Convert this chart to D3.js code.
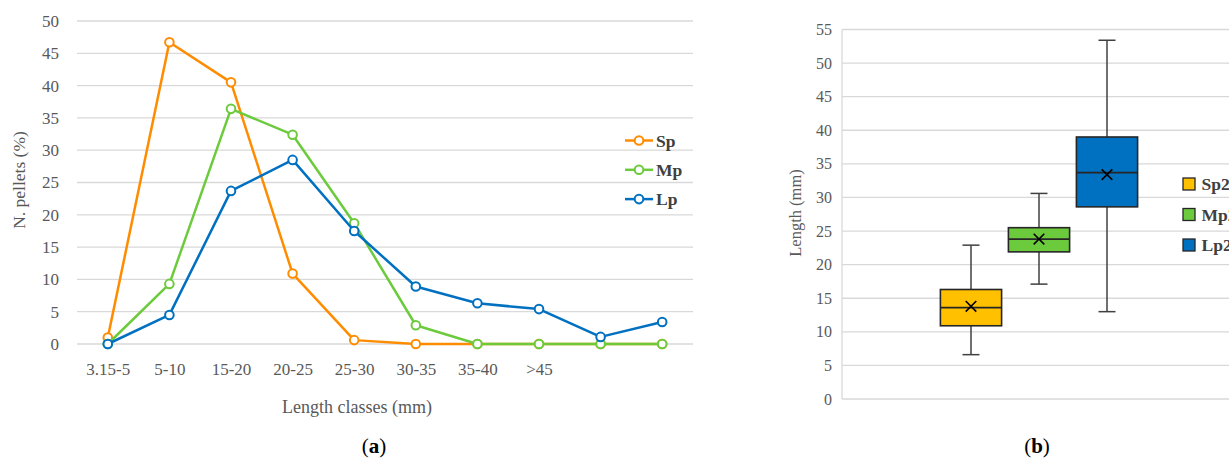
<!DOCTYPE html>
<html>
<head>
<meta charset="utf-8">
<script src="https://cdn.jsdelivr.net/npm/d3@7"></script>
<style>
  html, body { margin: 0; padding: 0; background: #fff; }
  svg { display: block; font-family: "Liberation Serif", "DejaVu Serif", serif; }
</style>
</head>
<body>
<svg id="chart" width="1229" height="458"></svg>
<script>
// ---- Panel (a) data ----
const classLabels = ["3.15-5", "5-10", "15-20", "20-25", "25-30", "30-35", "35-40", ">45", "", ""];
const spValues = [1.0, 46.7, 40.5, 10.9, 0.6, 0, 0, 0, 0, 0];
const mpValues = [0, 9.3, 36.4, 32.4, 18.7, 2.9, 0, 0, 0, 0];
const lpValues = [0, 4.5, 23.7, 28.5, 17.5, 8.9, 6.3, 5.4, 1.1, 3.4];
const lineSeriesNames = ["Sp", "Mp", "Lp"];
const lineColors = ["#FF8C00", "#6CCB3C", "#0070C0"];
const yTicksA = [0, 5, 10, 15, 20, 25, 30, 35, 40, 45, 50];

// ---- Panel (b) data ----
const boxNames = ["Sp2", "Mp2", "Lp2"];
const boxMin = [6.6, 17.1, 13.0];
const boxQ1 = [10.9, 21.9, 28.6];
const boxMedian = [13.6, 23.8, 33.7];
const boxMean = [13.8, 23.8, 33.4];
const boxQ3 = [16.3, 25.5, 39.0];
const boxMax = [22.9, 30.6, 53.4];
const boxColors = ["#FFC000", "#6CCB3C", "#0070C0"];
const yTicksB = [0, 5, 10, 15, 20, 25, 30, 35, 40, 45, 50, 55];

const svg = d3.select("#chart");
const gridColor = "#D9D9D9";
const tickColor = "#595959";

// ================= Panel (a) =================
const A = { left: 77, right: 693, top: 21, bottom: 344 };
const xA = d3.scalePoint().domain(d3.range(classLabels.length)).range([A.left, A.right]).padding(0.5);
const yA = d3.scaleLinear().domain([0, 50]).range([A.bottom, A.top]);

const gA = svg.append("g");
gA.append("g").selectAll("line").data(yTicksA).join("line")
  .attr("x1", A.left).attr("x2", A.right)
  .attr("y1", d => yA(d)).attr("y2", d => yA(d))
  .attr("stroke", gridColor).attr("stroke-width", 1.3);

const yAxisA = d3.axisLeft(yA).tickValues(yTicksA).tickSize(0).tickPadding(18);
const yAxA = gA.append("g").attr("transform", `translate(${A.left},0)`).call(yAxisA);
yAxA.select(".domain").remove();
yAxA.selectAll("text").attr("fill", tickColor).style("font-size", "17px").style("font-family", "Liberation Serif");

const xAxisA = d3.axisBottom(xA).tickFormat(i => classLabels[i]).tickSize(0).tickPadding(19);
const xAxA = gA.append("g").attr("transform", `translate(0,${A.bottom})`).call(xAxisA);
xAxA.select(".domain").remove();
xAxA.selectAll("text").attr("fill", tickColor).style("font-size", "17px").style("font-family", "Liberation Serif");

const seriesA = [spValues, mpValues, lpValues];
const lineGen = d3.line().x((d, i) => xA(i)).y(d => yA(d));
seriesA.forEach((vals, s) => {
  const g = gA.append("g");
  g.append("path").datum(vals).attr("d", lineGen)
    .attr("fill", "none").attr("stroke", lineColors[s]).attr("stroke-width", 2.5)
    .attr("stroke-linejoin", "round");
  g.selectAll("circle").data(vals).join("circle")
    .attr("cx", (d, i) => xA(i)).attr("cy", d => yA(d)).attr("r", 4.3)
    .attr("fill", "#fff").attr("stroke", lineColors[s]).attr("stroke-width", 2);
});

const legA = gA.append("g");
lineSeriesNames.forEach((name, i) => {
  const y = 140.5 + i * 29.3;
  legA.append("line").attr("x1", 625).attr("x2", 653).attr("y1", y).attr("y2", y)
    .attr("stroke", lineColors[i]).attr("stroke-width", 2.5);
  legA.append("circle").attr("cx", 639).attr("cy", y).attr("r", 4.3)
    .attr("fill", "#fff").attr("stroke", lineColors[i]).attr("stroke-width", 2);
  legA.append("text").attr("x", 656).attr("y", y).attr("dy", "0.35em")
    .attr("fill", "#404040").style("font-size", "17.5px").style("font-weight", "bold").text(name);
});

gA.append("text").attr("transform", "translate(25,180) rotate(-90)").attr("text-anchor", "middle")
  .attr("fill", tickColor).style("font-size", "17.5px").text("N. pellets (%)");
gA.append("text").attr("x", 357).attr("y", 413).attr("text-anchor", "middle")
  .attr("fill", tickColor).style("font-size", "18px").text("Length classes (mm)");
const capA = gA.append("text").attr("x", 374).attr("y", 453).attr("text-anchor", "middle")
  .attr("fill", "#000").style("font-size", "21px");
capA.append("tspan").text("(");
capA.append("tspan").style("font-weight", "bold").text("a");
capA.append("tspan").text(")");

// ================= Panel (b) =================
const B = { left: 842, right: 1229, top: 29.5, bottom: 399 };
const yB = d3.scaleLinear().domain([0, 55]).range([B.bottom, B.top]);
const xB = d3.scaleBand().domain(boxNames).range([937, 1141]).paddingInner(0.1).paddingOuter(0.05);

const gB = svg.append("g");
gB.append("g").selectAll("line").data(yTicksB).join("line")
  .attr("x1", B.left).attr("x2", B.right)
  .attr("y1", d => yB(d)).attr("y2", d => yB(d))
  .attr("stroke", gridColor).attr("stroke-width", 1.3);
gB.append("line").attr("x1", B.left).attr("x2", B.left).attr("y1", yB(55)).attr("y2", yB(0))
  .attr("stroke", gridColor).attr("stroke-width", 1.3);

const yAxisB = d3.axisLeft(yB).tickValues(yTicksB).tickSize(0).tickPadding(10);
const yAxB = gB.append("g").attr("transform", `translate(${B.left},0)`).call(yAxisB);
yAxB.select(".domain").remove();
yAxB.selectAll("text").attr("fill", tickColor).style("font-size", "16px").style("font-family", "Liberation Serif");

gB.append("text").attr("transform", "translate(801,213) rotate(-90)").attr("text-anchor", "middle")
  .attr("fill", tickColor).style("font-size", "16.5px").text("Length (mm)");

const boxStroke = "#262626";
boxNames.forEach((name, i) => {
  const x0 = xB(name), w = xB.bandwidth(), cx = x0 + w / 2;
  const g = gB.append("g");
  const capW = 17;
  g.append("line").attr("x1", cx).attr("x2", cx).attr("y1", yB(boxMax[i])).attr("y2", yB(boxQ3[i]))
    .attr("stroke", "#404040").attr("stroke-width", 1.5);
  g.append("line").attr("x1", cx).attr("x2", cx).attr("y1", yB(boxQ1[i])).attr("y2", yB(boxMin[i]))
    .attr("stroke", "#404040").attr("stroke-width", 1.5);
  g.append("line").attr("x1", cx - capW / 2).attr("x2", cx + capW / 2).attr("y1", yB(boxMax[i])).attr("y2", yB(boxMax[i]))
    .attr("stroke", "#404040").attr("stroke-width", 1.5);
  g.append("line").attr("x1", cx - capW / 2).attr("x2", cx + capW / 2).attr("y1", yB(boxMin[i])).attr("y2", yB(boxMin[i]))
    .attr("stroke", "#404040").attr("stroke-width", 1.5);
  g.append("rect").attr("x", x0).attr("width", w)
    .attr("y", yB(boxQ3[i])).attr("height", yB(boxQ1[i]) - yB(boxQ3[i]))
    .attr("fill", boxColors[i]).attr("stroke", boxStroke).attr("stroke-width", 1.6);
  g.append("line").attr("x1", x0).attr("x2", x0 + w).attr("y1", yB(boxMedian[i])).attr("y2", yB(boxMedian[i]))
    .attr("stroke", boxStroke).attr("stroke-width", 1.6);
  const m = 5.3, my = yB(boxMean[i]);
  g.append("path").attr("d", `M${cx - m},${my - m}L${cx + m},${my + m}M${cx - m},${my + m}L${cx + m},${my - m}`)
    .attr("stroke", "#000").attr("stroke-width", 1.6).attr("fill", "none");
});

boxNames.forEach((name, i) => {
  const y = 184 + i * 30.5;
  gB.append("rect").attr("x", 1183).attr("y", y - 6).attr("width", 12).attr("height", 12)
    .attr("fill", boxColors[i]).attr("stroke", boxStroke).attr("stroke-width", 1.3);
  gB.append("text").attr("x", 1201.5).attr("y", y).attr("dy", "0.35em")
    .attr("fill", "#404040").style("font-size", "17.5px").style("font-weight", "bold").text(name);
});

const capB = gB.append("text").attr("x", 1037).attr("y", 453).attr("text-anchor", "middle")
  .attr("fill", "#000").style("font-size", "21px");
capB.append("tspan").text("(");
capB.append("tspan").style("font-weight", "bold").text("b");
capB.append("tspan").text(")");
</script>
</body>
</html>
